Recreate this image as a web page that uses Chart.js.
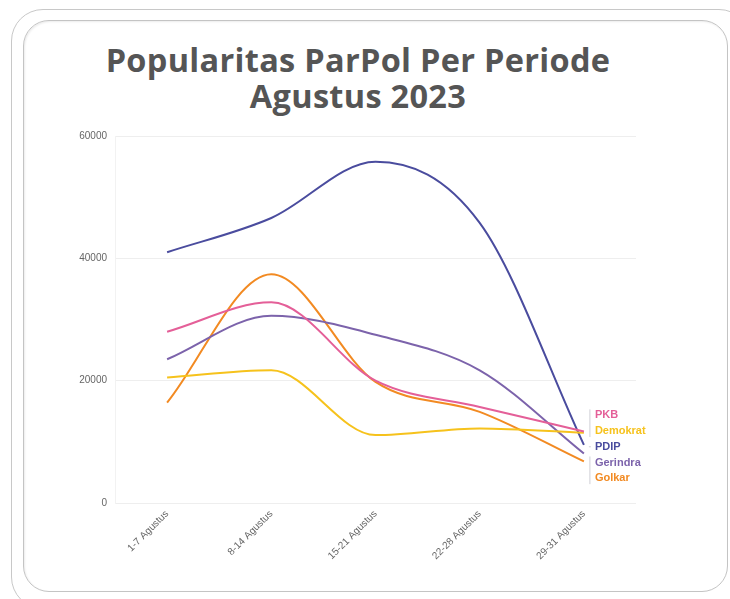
<!DOCTYPE html>
<html>
<head>
<meta charset="utf-8">
<script src="https://cdn.jsdelivr.net/npm/chart.js@4"></script>
<style>
  html, body { margin: 0; padding: 0; background: #fff; }
  body { width: 730px; height: 599px; position: relative; overflow: hidden; }
  .outer {
    position: absolute; left: 11px; top: 9px; width: 740px; height: 600px;
    border: 1px solid #c8c8c8; border-radius: 32px; box-sizing: border-box;
  }
  .inner {
    position: absolute; left: 23px; top: 20px; width: 705px; height: 572px;
    border: 1.5px solid #c4c4c4; border-radius: 26px; box-sizing: border-box;
    box-shadow: inset 1px 1px 2px rgba(0,0,0,0.08);
  }
  h1 {
    position: absolute; left: 0; width: 716px; top: 42px; margin: 0;
    text-align: center; font-family: "Open Sans", sans-serif; font-weight: 700;
    font-size: 32.5px; line-height: 36px; color: #555555; letter-spacing: 0.3px;
  }
  canvas { position: absolute; left: 0; top: 0; }
</style>
</head>
<body>
<div class="outer"></div>
<div class="inner"></div>
<h1>Popularitas ParPol Per Periode<br>Agustus 2023</h1>
<canvas id="chart" width="730" height="599"></canvas>
<script>
const periods = ['1-7 Agustus', '8-14 Agustus', '15-21 Agustus', '22-28 Agustus', '29-31 Agustus'];

const pkb      = [28000, 32800, 20000, 15700, 11700];
const demokrat = [20500, 21700, 11100, 12200, 11500];
const pdip     = [41000, 46600, 55800, 45800, 9500];
const gerindra = [23500, 30600, 27500, 21700, 8100];
const golkar   = [16400, 37400, 19800, 14900, 6800];

const yTicks = [0, 20000, 40000, 60000];

const parties = [
  { label: 'PKB', data: pkb, color: '#e45f98' },
  { label: 'Demokrat', data: demokrat, color: '#f6c21c' },
  { label: 'PDIP', data: pdip, color: '#4a4c9e' },
  { label: 'Gerindra', data: gerindra, color: '#7c63ab' },
  { label: 'Golkar', data: golkar, color: '#f28a22' }
];

// labels at the end of the lines, spread around their mean position
const endLabels = {
  id: 'endLabels',
  afterDatasetsDraw(chart) {
    const ctx = chart.ctx;
    const items = chart.data.datasets.map((ds, i) => {
      const meta = chart.getDatasetMeta(i);
      const pt = meta.data[meta.data.length - 1];
      return { label: ds.label, color: ds.borderColor, x: pt.x, y: pt.y };
    });
    items.sort((a, b) => a.y - b.y);
    const gap = 15.7;
    const mean = items.reduce((s, it) => s + it.y, 0) / items.length;
    const start = mean - gap * (items.length - 1) / 2 + 2;
    const x = items[0].x + 11;
    ctx.save();
    ctx.font = 'bold 11px "Liberation Sans", Arial, sans-serif';
    ctx.textBaseline = 'middle';
    items.forEach((it, i) => {
      it.ly = start + i * gap;
    });
    // connector brackets
    ctx.strokeStyle = '#cfcfd6';
    ctx.lineWidth = 1;
    ctx.beginPath();
    ctx.moveTo(x - 5, items[0].ly - 6);
    ctx.lineTo(x - 5, items[1].ly + 6);
    ctx.moveTo(x - 6, items[2].ly);
    ctx.lineTo(x - 4, items[2].ly);
    ctx.moveTo(x - 5, items[3].ly - 6);
    ctx.lineTo(x - 5, items[4].ly + 6);
    ctx.stroke();
    items.forEach(it => {
      ctx.fillStyle = it.color;
      ctx.fillText(it.label, x, it.ly);
    });
    ctx.restore();
  }
};

new Chart(document.getElementById('chart'), {
  type: 'line',
  data: {
    labels: periods,
    datasets: parties.map(p => ({
      label: p.label,
      data: p.data,
      borderColor: p.color,
      backgroundColor: p.color,
      borderWidth: 2,
      pointRadius: 0,
      cubicInterpolationMode: 'monotone',
      fill: false
    }))
  },
  options: {
    responsive: false,
    animation: false,
    layout: { padding: { top: 136, right: 94, bottom: 0, left: 0 } },
    plugins: {
      legend: { display: false },
      tooltip: { enabled: false }
    },
    scales: {
      x: {
        offset: true,
        grid: { display: false, drawTicks: false },
        border: { display: false },
        ticks: {
          color: '#666',
          font: { family: '"Liberation Sans", Arial, sans-serif', size: 10 },
          maxRotation: 45,
          minRotation: 45,
          padding: 5
        },
        afterFit(scale) { scale.height = 96; }
      },
      y: {
        min: 0,
        max: 60000,
        afterBuildTicks(scale) { scale.ticks = yTicks.map(v => ({ value: v })); },
        grid: { color: '#eeeeee', drawTicks: false },
        border: { display: true, color: '#f2f2f2' },
        ticks: {
          color: '#666',
          font: { family: '"Liberation Sans", Arial, sans-serif', size: 10 },
          padding: 8,
          callback: v => String(v)
        },
        afterFit(scale) { scale.width = 115; }
      }
    }
  },
  plugins: [endLabels]
});
</script>
</body>
</html>
